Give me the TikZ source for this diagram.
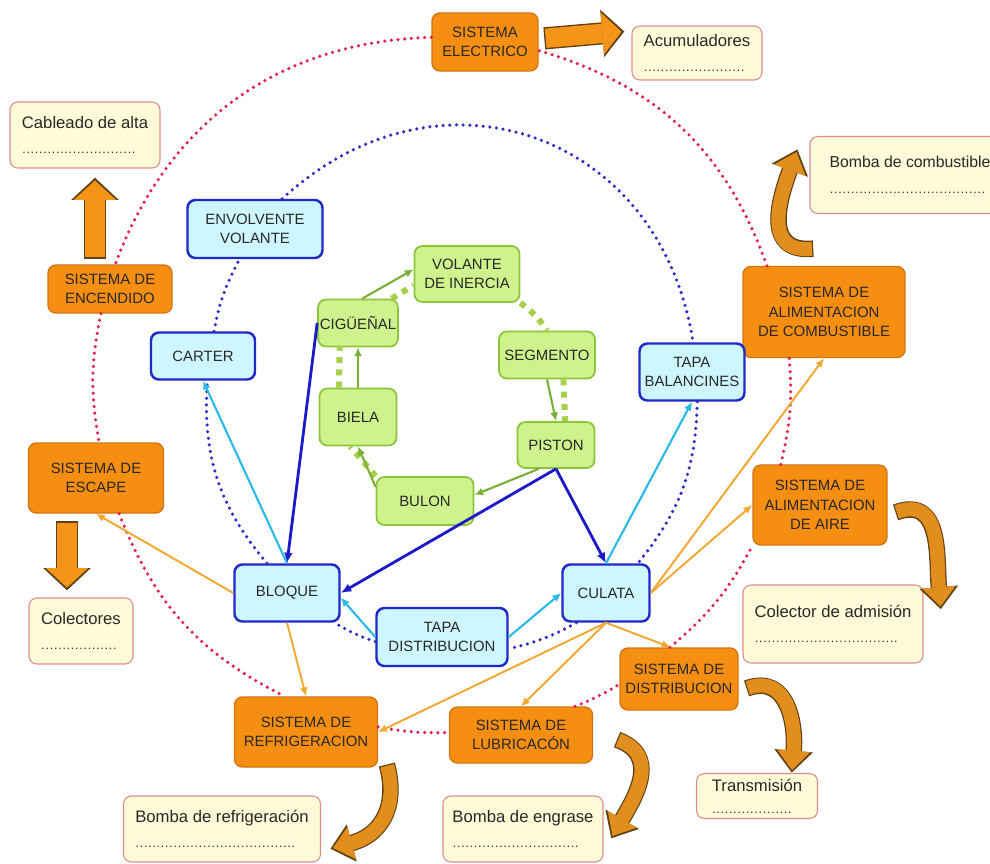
\documentclass[tikz,border=0pt]{standalone}
\usepackage{fontspec}
\setmainfont{Liberation Sans}
\usepackage{tikz}
\usetikzlibrary{positioning}
\usetikzlibrary{shapes,arrows.meta}

\definecolor{sysfill}{RGB}{246,142,18}
\definecolor{sysedge}{RGB}{212,118,16}
\definecolor{notefill}{RGB}{255,250,216}
\definecolor{noteedge}{RGB}{220,140,140}
\definecolor{partfill}{RGB}{206,246,255}
\definecolor{partedge}{RGB}{32,40,200}
\definecolor{piecefill}{RGB}{206,242,140}
\definecolor{pieceedge}{RGB}{140,196,60}
\definecolor{reddot}{RGB}{226,32,72}
\definecolor{bluedot}{RGB}{44,44,200}
\definecolor{greendot}{RGB}{164,208,74}
\definecolor{darklink}{RGB}{26,26,200}
\definecolor{cyanlink}{RGB}{40,186,232}
\definecolor{orangelink}{RGB}{242,168,48}
\definecolor{greenlink}{RGB}{122,176,52}
\definecolor{fatfill}{RGB}{245,148,24}
\definecolor{curlfill}{RGB}{226,142,30}
\definecolor{fatedge}{RGB}{96,66,20}
\definecolor{ink}{RGB}{40,40,40}

\newcommand{\dotrule}[1]{\hbox to #1{\scriptsize\leaders\hbox to 2.4pt{\hss.\hss}\hfill}}

\tikzset{
  wh/.style 2 args={minimum width=#1*0.02cm, minimum height=#2*0.02cm},
  sys/.style={rectangle, rounded corners=4.5pt, fill=sysfill, draw=sysedge, line width=0.8pt,
    align=center, inner sep=1pt, text=ink, font=\fontsize{8.5}{11}\selectfont},
  part/.style={rectangle, rounded corners=4.5pt, fill=partfill, draw=partedge, line width=1.4pt,
    align=center, inner sep=1pt, text=ink, font=\fontsize{8.5}{11}\selectfont},
  piece/.style={rectangle, rounded corners=4.5pt, fill=piecefill, draw=pieceedge, line width=1pt,
    align=center, inner sep=1pt, text=ink, font=\fontsize{8.5}{11}\selectfont},
  note/.style={rectangle, rounded corners=4.5pt, fill=notefill, draw=noteedge, line width=0.6pt,
    align=left, inner sep=2pt, text=ink, font=\fontsize{9.5}{11.5}\selectfont},
  reddots/.style={draw=reddot, line width=2pt, line cap=round, dash pattern=on 0pt off 3.8pt},
  bluedots/.style={draw=bluedot, line width=2pt, line cap=round, dash pattern=on 0pt off 3.8pt},
  greendots/.style={draw=greendot, line width=3.4pt, dash pattern=on 3.4pt off 3.6pt},
  darkarrow/.style={draw=darklink, line width=1.6pt, -{Latex[length=6pt,width=5pt]}},
  cyanarrow/.style={draw=cyanlink, line width=1.2pt, -{Latex[length=5pt,width=4.5pt]}},
  orangearrow/.style={draw=orangelink, line width=1.1pt, -{Latex[length=5pt,width=4.5pt]}},
  greenarrow/.style={draw=greenlink, line width=1.2pt, -{Latex[length=5pt,width=4.5pt]}},
  fatarrow/.style={draw=fatfill, line width=11pt, -{Triangle[length=11pt,width=24pt,line width=0pt]},
    preaction={draw=fatedge, line width=12.6pt, shorten >=-1.6pt, shorten <=-0.8pt,
      -{Triangle[length=12.6pt,width=27pt,line width=0pt]}}},
  curlarrow/.style={draw=curlfill, line width=8pt, -{Triangle[length=11pt,width=19pt,line width=0pt]},
    preaction={draw=fatedge, line width=9.4pt, shorten >=-1.5pt, shorten <=-0.7pt,
      -{Triangle[length=12.5pt,width=22pt,line width=0pt]}}}
}

\begin{document}
\begin{tikzpicture}[x=0.02cm,y=0.02cm]
  \path[use as bounding box] (0,0) rectangle (990,-863);
  \clip (0,0) rectangle (990,-863);
  \fill[white] (0,0) rectangle (990,-863);

  \node(elec) [sys,wh={106}{58}] at (485,-42) {SISTEMA\\ELECTRICO};
  \node(encend) [sys,wh={124}{48}] at (110,-289) {SISTEMA DE\\ENCENDIDO};
  \node(escape) [sys,wh={135}{70}] at (96,-478) {SISTEMA DE\\ESCAPE};
  \node(combus) [sys,wh={162}{91}] at (824,-312) {SISTEMA DE\\ALIMENTACION\\DE COMBUSTIBLE};
  \node(aire) [sys,wh={134}{80}] at (820,-505) {SISTEMA DE\\ALIMENTACION\\DE AIRE};
  \node(refri) [sys,wh={143}{70}] at (306,-732) {SISTEMA DE\\REFRIGERACION};
  \node(lubri) [sys,wh={143}{56}] at (521,-735) {SISTEMA DE\\LUBRICACÓN};
  \node(distri) [sys,wh={118}{62}] at (679,-679) {SISTEMA DE\\DISTRIBUCION};

  \node(cableado) [note,wh={150}{66}] at (85,-135) {Cableado de alta\\[3pt]\dotrule{2.3cm}};
  \node(acumul) [note,wh={130}{54}] at (697,-53) {Acumuladores\\[3pt]\dotrule{2.04cm}};
  \node(bombacomb) [note,wh={200}{77},font=\fontsize{9}{11.5}\selectfont] at (910,-175) {Bomba de combustible\\[3pt]\dotrule{3.15cm}};
  \node(colect) [note,wh={104}{66}] at (81,-631) {Colectores\\[3pt]\dotrule{1.6cm}};
  \node(coladm) [note,wh={180}{78}] at (833,-624) {Colector de admisión\\[3pt]\dotrule{2.9cm}};
  \node(bombarefri) [note,wh={197}{66}] at (222,-829) {Bomba de refrigeración\\[3pt]\dotrule{3.28cm}};
  \node(bombaeng) [note,wh={160}{66}] at (523,-829) {Bomba de engrase\\[3pt]\dotrule{2.6cm}};
  \node(transm) [note,wh={121}{45}] at (757,-796) {Transmisión\\[1pt]\dotrule{1.68cm}};

  \node(envol) [part,wh={135}{58}] at (255,-229) {ENVOLVENTE\\VOLANTE};
  \node(carter) [part,wh={104}{47}] at (203,-356) {CARTER};
  \node(bloque) [part,wh={105}{57}] at (287,-593) {BLOQUE};
  \node(culata) [part,wh={87}{57}] at (606,-593) {CULATA};
  \node(tapadis) [part,wh={131}{58}] at (442,-637) {TAPA\\DISTRIBUCION};
  \node(tapabal) [part,wh={105}{57}] at (692,-372) {TAPA\\BALANCINES};

  \node(volante) [piece,wh={105}{56}] at (467,-274) {VOLANTE\\DE INERCIA};
  \node(cigue) [piece,wh={77}{47}] at (358,-323) {CIGÜEÑAL};
  \node(segm) [piece,wh={96}{47}] at (547,-355) {SEGMENTO};
  \node(biela) [piece,wh={77}{57}] at (358,-417) {BIELA};
  \node(piston) [piece,wh={77}{46}] at (556,-445) {PISTON};
  \node(bulon) [piece,wh={97}{48}] at (425,-501) {BULON};

  \draw[reddots] (elec.175) to[bend right=34] (encend.78);
  \draw[reddots] (encend.250) to[bend right=11] (escape.85);
  \draw[reddots] (escape.303) to[bend right=21] (refri.121);
  \draw[reddots] (refri.4) to[bend right=6] (lubri.178);
  \draw[reddots] (lubri.28) to[bend right=5] (distri.185);
  \draw[reddots] (distri.106) to[bend right=11] (aire.south west);
  \draw[reddots] (aire.134) to[bend right=9] (combus.233);
  \draw[reddots] (combus.141) to[bend right=27] (elec.351);

  \draw[bluedots] (envol.48) to[bend left=62,looseness=1.25] (tapabal.88);
  \draw[bluedots] (tapabal.280) to[bend left=19] (culata.43);
  \draw[bluedots] (culata.225) to[bend left=8] (tapadis.350);
  \draw[bluedots] (tapadis.184) to[bend left=6] (bloque.328);
  \draw[bluedots] (bloque.124) to[bend left=22] (carter.280);
  \draw[bluedots] (carter.66) to[bend left=9] (envol.243);

  \draw[greendots] (cigue.36) -- (volante.192);
  \draw[greendots] (volante.south east) to[bend left=10] (segm.north);
  \draw[greendots] (segm.304) -- (piston.69);
  \draw[greendots] (bulon.north west) -- (biela.255);
  \draw[greendots] (biela.123) -- (cigue.233);

  \draw[greenarrow] (segm.south) -- (piston.north);
  \draw[greenarrow] (piston.234) -- (bulon.7);
  \draw[greenarrow] (bulon.164) -- (biela.south);
  \draw[greenarrow] (biela.north) -- (cigue.south);
  \draw[greenarrow] (cigue.80) -- (volante.175);

  \draw[darkarrow] (cigue.west) -- (bloque.north);
  \draw[darkarrow] (piston.south) -- (bloque.east);
  \draw[darkarrow] (piston.south) -- (culata.north);

  \draw[cyanarrow] (bloque.north) -- (carter.south);
  \draw[cyanarrow] (culata.north) -- (tapabal.south);
  \draw[cyanarrow] (tapadis.west) -- (bloque.355);
  \draw[cyanarrow] (tapadis.east) -- (culata.west);

  \draw[orangearrow] (bloque.west) -- (escape.south);
  \draw[orangearrow] (bloque.south) -- (refri.north);
  \draw[orangearrow] (culata.south) -- (refri.east);
  \draw[orangearrow] (culata.south) -- (lubri.north);
  \draw[orangearrow] (culata.south) -- (distri.105);
  \draw[orangearrow] (culata.east) -- (aire.west);
  \draw[orangearrow] (culata.east) -- (combus.south);

  \draw[fatarrow] ([shift={(7,0)}]elec.4) -- ([shift={(-10,0)}]acumul.162);
  \draw[fatarrow] ([shift={(-15,7)}]encend.north) -- ([shift={(10,-12)}]cableado.south);
  \draw[fatarrow] ([shift={(-29,-9)}]escape.south) -- ([shift={(-14,10)}]colect.north);
  \draw[curlarrow] ([shift={(-12,17)}]combus.north) to[out=185,in=250,looseness=1.3] ([shift={(-13,23)}]bombacomb.west);
  \draw[curlarrow] ([shift={(9,-7)}]aire.east) to[out=20,in=95,looseness=1.2] ([shift={(17,-22)}]coladm.north east);
  \draw[curlarrow] ([shift={(9,-9)}]distri.east) to[out=20,in=85,looseness=1.2] ([shift={(35,3)}]transm.north);
  \draw[curlarrow] ([shift={(25,-5)}]lubri.east) to[out=-20,in=60,looseness=1.2] ([shift={(9,-7)}]bombaeng.east);
  \draw[curlarrow] ([shift={(9,2)}]refri.south east) to[out=-75,in=15,looseness=1.2] ([shift={(12,-19)}]bombarefri.east);
\end{tikzpicture}
\end{document}
